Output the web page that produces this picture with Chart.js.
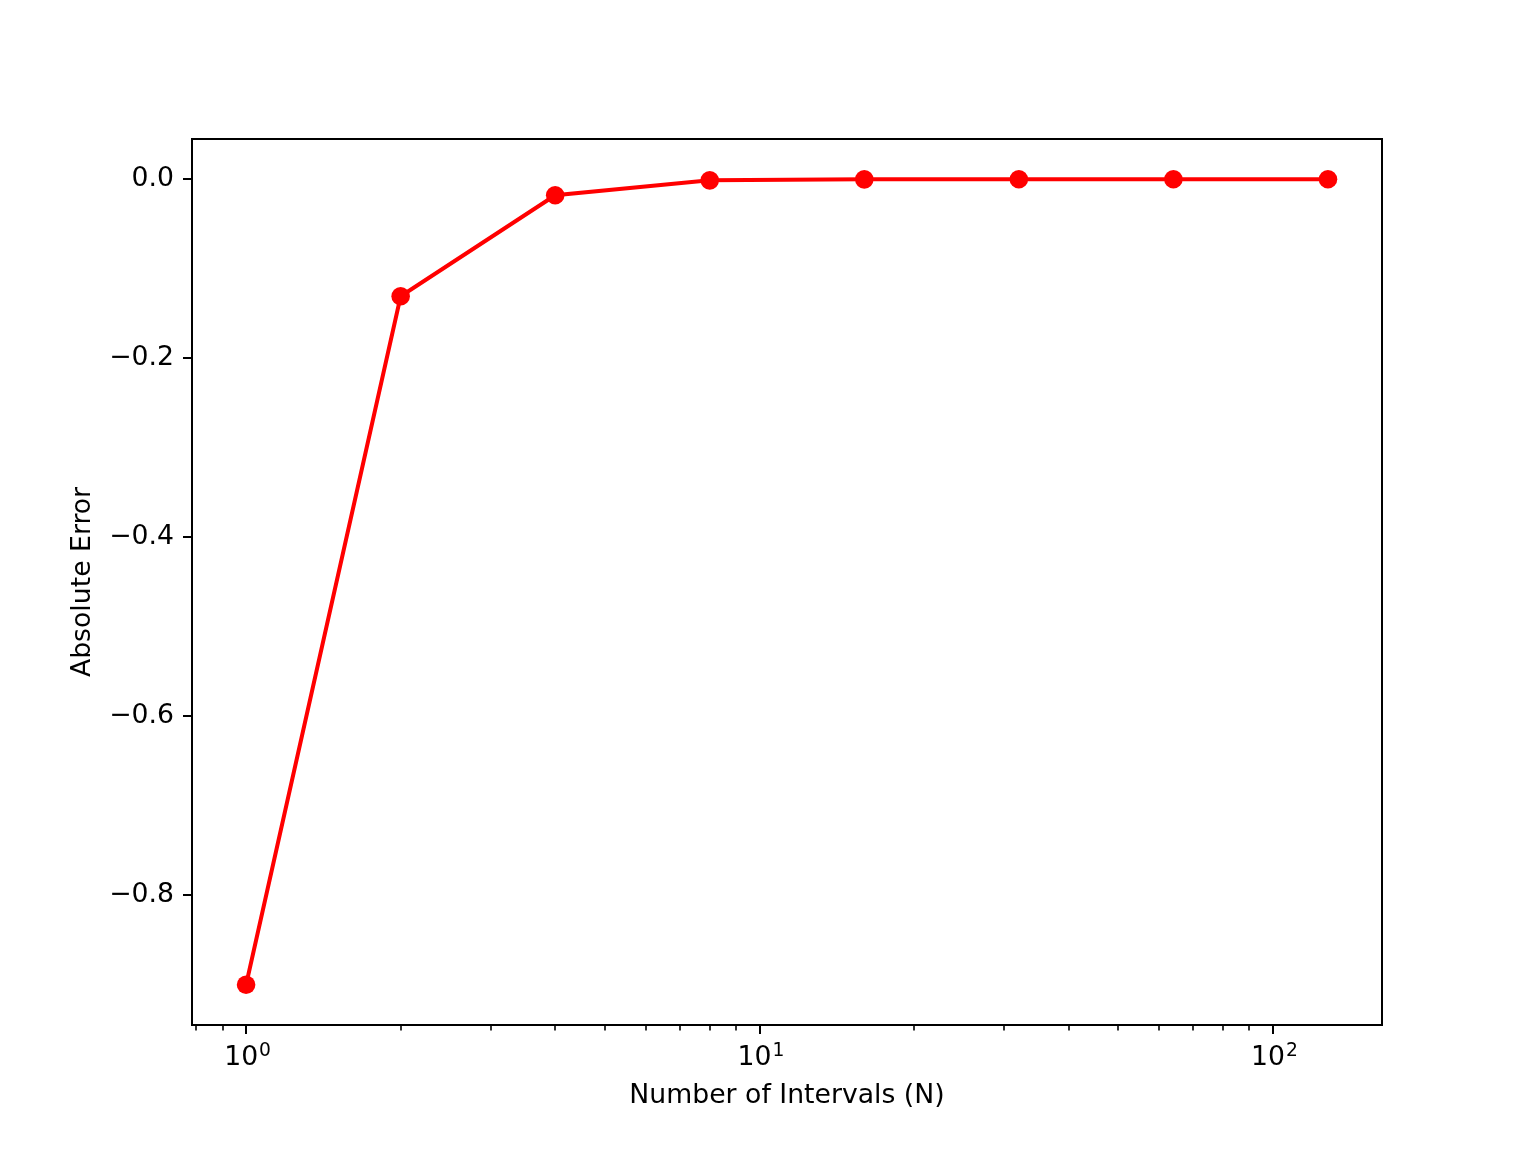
<!DOCTYPE html>
<html>
<head>
<meta charset="utf-8">
<script src="https://cdn.jsdelivr.net/npm/chart.js@4.4.1/dist/chart.umd.min.js"></script>
<style>
  html, body { margin: 0; padding: 0; background: #fff; }
  #wrap { width: 1536px; height: 1152px; }
</style>
</head>
<body>
<div id="wrap"><canvas id="c" width="1536" height="1152"></canvas></div>
<script>
// data
var intervals = [1, 2, 4, 8, 16, 32, 64, 128];
var absError = [-0.9, -0.1307, -0.0179, -0.0012, -0.00008, -0.000005, -0.0000003, -0.00000002];
var yTicks = [-0.8, -0.6, -0.4, -0.2, 0.0];
var xMajor = [1, 10, 100];
var xMinor = [0.8, 0.9, 2, 3, 4, 5, 6, 7, 8, 9, 20, 30, 40, 50, 60, 70, 80, 90];
var xExponents = ["0", "1", "2"];

var FONT = "'DejaVu Sans', sans-serif";
var FS = 26.7;

// frame, tick marks and 10^n labels, placed off the library's scales
var axesDeco = {
  id: "axesDeco",
  afterDraw: function(chart) {
    var ctx = chart.ctx, a = chart.chartArea;
    var xs = chart.scales.x, ys = chart.scales.y;
    ctx.save();
    ctx.strokeStyle = "#000";
    ctx.lineWidth = 2;
    ctx.beginPath();
    xMajor.forEach(function(v) {
      var px = Math.round(xs.getPixelForValue(v));
      ctx.moveTo(px, a.bottom); ctx.lineTo(px, a.bottom + 9);
    });
    yTicks.forEach(function(v) {
      var py = Math.round(ys.getPixelForValue(v));
      ctx.moveTo(a.left, py); ctx.lineTo(a.left - 9, py);
    });
    ctx.stroke();
    ctx.lineWidth = 1.6;
    ctx.beginPath();
    xMinor.forEach(function(v) {
      var px = Math.round(xs.getPixelForValue(v));
      ctx.moveTo(px, a.bottom); ctx.lineTo(px, a.bottom + 5.5);
    });
    ctx.stroke();
    ctx.lineWidth = 2;
    ctx.strokeRect(a.left, a.top, a.right - a.left, a.bottom - a.top);

    // major labels like matplotlib mathtext: 10 with a raised exponent
    ctx.fillStyle = "#000";
    ctx.textBaseline = "alphabetic";
    ctx.textAlign = "left";
    var base = a.bottom + 40;
    xMajor.forEach(function(v, i) {
      var px = xs.getPixelForValue(v);
      ctx.font = FS + "px " + FONT;
      var w1 = ctx.measureText("10").width;
      ctx.font = (FS * 0.7) + "px " + FONT;
      var w2 = ctx.measureText(xExponents[i]).width;
      var left = px - (w1 + w2) / 2 + 1;
      ctx.font = FS + "px " + FONT;
      ctx.fillText("10", left, base);
      ctx.font = (FS * 0.7) + "px " + FONT;
      ctx.fillText(xExponents[i], left + w1 + 1, base - 9);
    });
    ctx.restore();
  }
};

new Chart(document.getElementById("c"), {
  type: "line",
  data: {
    datasets: [{
      data: intervals.map(function(n, i) { return { x: n, y: absError[i] }; }),
      borderColor: "#ff0000",
      backgroundColor: "#ff0000",
      borderWidth: 4,
      pointRadius: 9.3,
      pointBorderWidth: 0,
      pointBackgroundColor: "#ff0000",
      tension: 0
    }]
  },
  options: {
    responsive: false,
    animation: false,
    events: [],
    layout: { padding: { left: 0, top: 139, right: 154, bottom: 0 } },
    plugins: { legend: { display: false }, tooltip: { enabled: false } },
    scales: {
      x: {
        type: "logarithmic",
        min: 0.7846,
        max: 163.1,
        grid: { display: false },
        border: { display: false },
        afterFit: function(s) { s.height = 127; },
        afterBuildTicks: function(s) { s.ticks = xMajor.map(function(v) { return { value: v }; }); },
        ticks: { display: false },
        title: {
          display: true,
          text: "Number of Intervals (N)",
          color: "#000",
          font: { family: FONT, size: FS },
          padding: { top: 0, bottom: 40 }
        }
      },
      y: {
        min: -0.945,
        max: 0.045,
        grid: { display: false },
        border: { display: false },
        afterFit: function(s) { s.width = 192; },
        afterBuildTicks: function(s) { s.ticks = yTicks.map(function(v) { return { value: v }; }); },
        ticks: {
          padding: 10,
          color: "#000",
          font: { family: FONT, size: FS },
          callback: function(v) { return v.toFixed(1).replace("-", "\u2212"); }
        },
        title: {
          display: true,
          text: "Absolute Error",
          color: "#000",
          font: { family: FONT, size: FS },
          padding: { top: 67, bottom: 0 }
        }
      }
    }
  },
  plugins: [axesDeco]
});
</script>
</body>
</html>
